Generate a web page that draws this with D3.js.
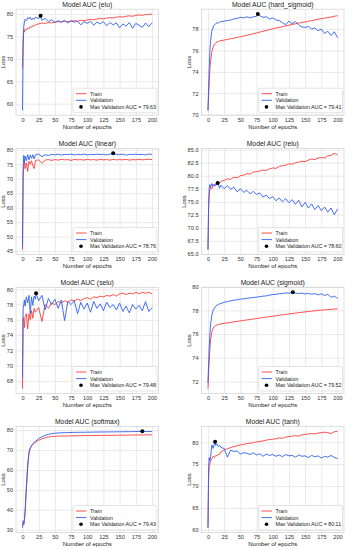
<!DOCTYPE html>
<html>
<head>
<meta charset="utf-8">
<script src="https://cdn.jsdelivr.net/npm/d3@7"></script>
<style>
  body { margin: 0; background: #fff; }
  svg { display: block; font-family: "Liberation Sans", Arial, sans-serif; }
  .grid line { stroke: #e3e3e3; stroke-width: 0.8; }
  .grid path { stroke: none; }
  .tick text { fill: #333; }
</style>
</head>
<body>
<svg id="chart" width="352" height="550"></svg>
<script>
const epochs = [0,1,2,3,4,6,8,10,12,14,16,18,20,25,30,35,40,45,50,55,60,65,70,75,80,85,90,95,100,105,110,115,120,125,130,135,140,145,150,155,160,165,170,175,180,185,190,195,200];

const activations = ["elu", "hard_sigmoid", "linear", "relu", "selu", "sigmoid", "softmax", "tanh"];

const eluTrain = [68.0,74.5,76.3,76.0,76.6,76.4,76.9,76.7,77.2,77.0,77.4,77.3,77.6,77.8,78.0,77.9,78.1,78.0,78.2,78.3,78.2,78.4,78.3,78.4,78.5,78.4,78.6,78.5,78.7,78.8,78.7,78.9,79.0,78.9,79.1,79.2,79.1,79.3,79.4,79.3,79.5,79.6,79.5,79.7,79.8,79.7,79.9,79.9,80.0];
const eluVal = [58.5,72.0,77.2,78.2,78.8,78.5,79.2,78.9,79.3,78.7,79.1,78.8,79.3,79.0,78.6,79.0,78.3,78.7,78.1,78.5,78.2,78.6,78.0,78.5,78.2,78.4,77.6,78.3,77.9,78.4,77.5,78.2,77.8,78.3,77.4,78.1,77.6,78.0,76.9,77.8,77.3,78.1,76.8,77.9,77.5,77.0,78.0,77.2,78.1];

const hardSigmoidTrain = [70.4,71.8,73.2,74.3,75.0,75.9,76.3,76.6,76.7,76.8,76.85,76.9,76.92,76.98,77.03,77.1,77.15,77.22,77.28,77.35,77.42,77.5,77.57,77.65,77.72,77.8,77.87,77.95,78.02,78.1,78.16,78.23,78.3,78.37,78.43,78.5,78.56,78.62,78.68,78.74,78.8,78.86,78.92,78.98,79.03,79.08,79.13,79.2,79.25];
const hardSigmoidVal = [70.4,72.5,74.5,76.0,76.9,77.8,78.2,78.4,78.5,78.6,78.55,78.65,78.7,78.75,78.8,78.85,78.95,79.0,79.1,79.05,79.15,79.05,79.15,79.2,79.25,79.1,79.15,78.95,79.05,78.85,78.8,78.6,78.4,78.75,78.5,78.7,78.4,78.2,78.15,78.25,78.0,78.1,77.85,78.0,77.6,77.8,77.4,77.75,77.2];

const linearTrain = [45.5,70.0,74.5,75.8,73.5,75.5,72.5,76.0,75.0,76.2,74.5,73.5,76.3,76.5,75.3,76.4,76.6,76.3,76.6,76.4,76.7,76.5,76.6,76.3,76.7,76.5,76.6,76.4,76.7,76.5,76.6,76.4,76.7,76.5,76.6,76.4,76.7,76.5,76.6,76.5,76.7,76.4,76.6,76.5,76.7,76.5,76.6,76.7,76.6];
const linearVal = [46.5,73.5,78.0,75.5,77.8,76.2,78.3,76.5,78.2,77.0,78.3,76.8,78.2,78.5,77.6,78.3,78.0,78.4,78.2,78.5,78.1,78.4,78.3,78.5,78.2,78.4,78.3,78.5,78.2,78.4,78.3,78.5,78.3,78.4,78.2,78.5,78.6,78.4,78.3,78.5,78.1,78.4,78.3,78.5,78.3,78.4,78.2,78.5,78.4];

const reluTrain = [65.8,74.0,76.5,77.3,77.8,77.5,78.2,78.0,78.5,78.4,78.7,78.6,78.9,79.1,79.4,79.3,79.7,79.6,80.0,80.1,80.4,80.3,80.7,80.8,80.9,81.1,81.0,81.3,81.5,81.4,81.8,81.9,82.0,82.3,82.2,82.5,82.6,82.8,82.7,83.0,83.2,83.1,83.4,83.5,83.4,83.8,83.9,84.3,84.0];
const reluVal = [65.8,74.5,77.5,78.3,77.8,78.5,78.0,78.4,78.1,78.5,78.3,77.6,78.2,77.5,78.1,77.4,77.8,76.9,77.5,76.8,77.2,76.5,77.0,76.4,76.7,75.9,76.3,75.6,76.0,75.2,75.7,75.0,75.6,74.8,75.4,74.5,75.3,74.0,74.9,73.8,74.6,73.5,74.3,73.3,74.0,73.0,73.8,72.5,73.6];

const seluTrain = [67.0,76.3,76.0,75.0,76.4,76.8,74.8,76.8,76.0,77.2,76.2,77.5,77.0,77.6,75.8,78.0,77.5,78.2,78.0,78.4,78.2,78.5,78.3,78.6,78.5,78.7,78.5,78.8,78.9,78.7,79.0,78.9,79.1,79.0,79.2,79.1,79.3,79.1,79.4,79.5,79.3,79.5,79.4,79.6,79.4,79.6,79.5,79.6,79.4];
const seluVal = [68.5,77.5,78.0,78.6,77.8,79.0,78.2,79.2,76.8,79.0,77.9,79.1,78.7,78.5,79.2,77.3,78.8,78.0,78.7,77.5,78.6,75.9,78.4,78.0,78.5,76.8,78.3,77.4,78.2,77.0,78.4,77.5,78.1,77.2,78.3,77.6,78.0,77.3,78.2,77.1,77.8,76.9,78.0,77.4,77.9,77.2,78.4,77.1,77.6];

const sigmoidTrain = [71.4,72.8,73.9,74.8,75.5,76.2,76.5,76.65,76.72,76.78,76.8,76.83,76.86,76.9,76.95,76.99,77.03,77.07,77.11,77.15,77.19,77.23,77.27,77.31,77.35,77.39,77.43,77.47,77.51,77.55,77.59,77.62,77.66,77.7,77.73,77.77,77.8,77.84,77.87,77.9,77.93,77.96,77.99,78.02,78.04,78.07,78.09,78.11,78.13];
const sigmoidVal = [71.9,73.5,75.0,76.0,76.8,77.6,78.0,78.2,78.35,78.45,78.5,78.55,78.58,78.68,78.75,78.8,78.85,78.9,78.95,78.97,79.02,79.05,79.08,79.12,79.15,79.2,79.22,79.28,79.33,79.35,79.4,79.42,79.47,79.45,79.5,79.46,79.42,79.45,79.38,79.43,79.35,79.42,79.3,79.4,79.25,79.35,79.1,79.2,79.0];

const softmaxTrain = [32.0,33.0,32.5,34.5,38.0,50.0,61.0,68.5,70.8,72.0,72.8,73.4,73.9,74.9,75.7,76.2,76.6,76.8,76.9,77.0,77.05,77.1,77.1,77.15,77.2,77.2,77.25,77.25,77.3,77.3,77.3,77.35,77.35,77.4,77.4,77.4,77.45,77.45,77.5,77.5,77.5,77.55,77.55,77.6,77.6,77.6,77.65,77.65,77.7];
const softmaxVal = [31.0,34.5,33.0,35.0,39.5,51.5,62.5,69.0,71.0,72.3,73.2,73.9,74.4,75.7,76.7,77.4,77.9,78.2,78.45,78.6,78.7,78.75,78.8,78.85,78.9,78.9,78.95,78.95,79.0,79.0,79.05,79.05,79.1,79.1,79.1,79.15,79.15,79.2,79.2,79.2,79.25,79.25,79.3,79.3,79.35,79.4,79.35,79.35,79.3];

const tanhTrain = [60.5,72.0,74.5,75.0,75.8,76.3,76.8,76.5,77.0,76.9,77.3,77.2,77.8,78.3,78.5,78.8,79.0,79.2,79.4,79.5,79.7,79.8,79.9,80.1,80.2,80.3,80.5,80.6,80.7,80.8,81.0,80.9,81.2,81.3,81.4,81.5,81.4,81.7,81.8,81.9,82.0,81.9,82.1,82.2,82.3,82.2,82.0,82.4,82.5];
const tanhVal = [60.5,74.5,76.5,75.8,76.6,79.4,78.6,79.7,79.3,79.6,79.0,79.3,78.8,78.6,76.6,78.2,77.9,78.0,77.3,77.6,77.5,77.2,77.6,77.1,77.4,76.8,77.3,77.0,77.2,76.8,77.1,76.7,77.2,76.9,77.0,76.6,77.1,76.8,76.9,76.5,77.0,76.7,76.9,76.4,76.8,76.6,77.0,76.5,76.3];

// best validation epoch and AUC per model
const bestEpoch = [28, 77, 140, 15, 21, 131, 185, 11];
const bestAuc = [79.63, 79.41, 78.76, 78.60, 79.48, 79.52, 79.43, 80.11];

// tick labels
const xTicks = [0, 25, 50, 75, 100, 125, 150, 175, 200];
const eluTicks = [60, 65, 70, 75, 80];
const hardSigmoidTicks = [70, 72, 74, 76, 78];
const linearTicks = [45, 50, 55, 60, 65, 70, 75, 80];
const reluTicks = [65, 67.5, 70, 72.5, 75, 77.5, 80, 82.5, 85];
const seluTicks = [68, 70, 72, 74, 76, 78, 80];
const sigmoidTicks = [72, 74, 76, 78, 80];
const softmaxTicks = [30, 40, 50, 60, 70, 80];
const tanhTicks = [60, 65, 70, 75, 80];

const trainSets = [eluTrain, hardSigmoidTrain, linearTrain, reluTrain, seluTrain, sigmoidTrain, softmaxTrain, tanhTrain];
const valSets = [eluVal, hardSigmoidVal, linearVal, reluVal, seluVal, sigmoidVal, softmaxVal, tanhVal];
const tickSets = [eluTicks, hardSigmoidTicks, linearTicks, reluTicks, seluTicks, sigmoidTicks, softmaxTicks, tanhTicks];

const svg = d3.select("#chart");

const colX = [16, 201.5], plotW = 142.5;
const rowY = [9.2, 148.5, 287.5, 426.5], plotH = 106;

const RED = "#ff3b3b", BLUE = "#2f5ff5";

activations.forEach((name, i) => {
	const g = svg.append("g")
		.attr("transform", `translate(${colX[i % 2]},${rowY[Math.floor(i / 2)]})`);

	const train = epochs.map((e, k) => [e, trainSets[i][k]]);
	// validation curve, with the best epoch put in its place
	let val = epochs.map((e, k) => [e, valSets[i][k]]).filter(d => d[0] !== bestEpoch[i]);
	val.push([bestEpoch[i], bestAuc[i]]);
	val.sort((a, b) => a[0] - b[0]);

	const x = d3.scaleLinear().domain([-10, 210]).range([0, plotW]);
	const [lo, hi] = d3.extent(trainSets[i].concat(valSets[i], [bestAuc[i]]));
	const pad = (hi - lo) * 0.05;
	const y = d3.scaleLinear().domain([lo - pad, hi + pad]).range([plotH, 0]);

	const fmt = name === "relu" ? d3.format(".1f") : d3.format("d");

	// gridlines
	g.append("g").attr("class", "grid")
		.attr("transform", `translate(0,${plotH})`)
		.call(d3.axisBottom(x).tickValues(xTicks).tickSize(-plotH).tickFormat(""));
	g.append("g").attr("class", "grid")
		.call(d3.axisLeft(y).tickValues(tickSets[i]).tickSize(-plotW).tickFormat(""));

	g.append("rect")
		.attr("width", plotW).attr("height", plotH)
		.attr("fill", "none").attr("stroke", "#d6d6d6").attr("stroke-width", 0.8);

	// tick labels
	const xa = g.append("g")
		.attr("transform", `translate(0,${plotH})`)
		.call(d3.axisBottom(x).tickValues(xTicks).tickSize(0).tickPadding(2.5));
	const ya = g.append("g")
		.call(d3.axisLeft(y).tickValues(tickSets[i]).tickFormat(fmt).tickSize(0).tickPadding(3));
	[xa, ya].forEach(a => {
		a.select(".domain").remove();
		a.selectAll("text").attr("font-size", 5.6).attr("font-family", "Liberation Sans, Arial, sans-serif");
	});

	const line = d3.line().x(d => x(d[0])).y(d => y(d[1]));
	g.append("path").datum(train)
		.attr("d", line).attr("fill", "none").attr("stroke", RED).attr("stroke-width", 0.9);
	g.append("path").datum(val)
		.attr("d", line).attr("fill", "none").attr("stroke", BLUE).attr("stroke-width", 0.9);
	g.append("circle")
		.attr("cx", x(bestEpoch[i])).attr("cy", y(bestAuc[i]))
		.attr("r", 2).attr("fill", "#000");

	// title and axis labels
	g.append("text")
		.attr("x", plotW / 2).attr("y", -2.2)
		.attr("text-anchor", "middle").attr("font-size", 6.8).attr("fill", "#222")
		.text(`Model AUC (${name})`);
	g.append("text")
		.attr("x", plotW / 2).attr("y", plotH + 13.6)
		.attr("text-anchor", "middle").attr("font-size", 6).attr("fill", "#222")
		.text("Number of epochs");
	// y label sits just left of the widest tick label
	let minX = 0;
	ya.selectAll("text").each(function () {
		minX = Math.min(minX, this.getBBox().x);
	});
	g.append("text")
		.attr("transform", `translate(${minX - 1.6},${plotH / 2}) rotate(-90)`)
		.attr("text-anchor", "middle").attr("font-size", 6).attr("fill", "#222")
		.text("Loss");

	// legend, lower right
	const lg = g.append("g").attr("transform", `translate(${plotW - 1.5},${plotH - 2.5})`);
	lg.append("rect")
		.attr("x", -84).attr("y", -24.5).attr("width", 84).attr("height", 24.5)
		.attr("rx", 1.5).attr("fill", "#fff").attr("fill-opacity", 0.85)
		.attr("stroke", "#d8d8d8").attr("stroke-width", 0.7);
	const rows = [
		{ label: "Train", kind: RED },
		{ label: "Validation", kind: BLUE },
		{ label: `Max Validation AUC = ${bestAuc[i].toFixed(2)}`, kind: "dot" }
	];
	rows.forEach((r, k) => {
		const yy = -19 + k * 6.6;
		if (r.kind === "dot") {
			lg.append("circle").attr("cx", -76).attr("cy", yy).attr("r", 1.8).attr("fill", "#000");
		} else {
			lg.append("line").attr("x1", -81).attr("x2", -70.5).attr("y1", yy).attr("y2", yy)
				.attr("stroke", r.kind).attr("stroke-width", 0.9);
		}
		lg.append("text").attr("x", -67).attr("y", yy + 1.9)
			.attr("font-size", 5.3).attr("fill", "#222").text(r.label);
	});
});
</script>
</body>
</html>
